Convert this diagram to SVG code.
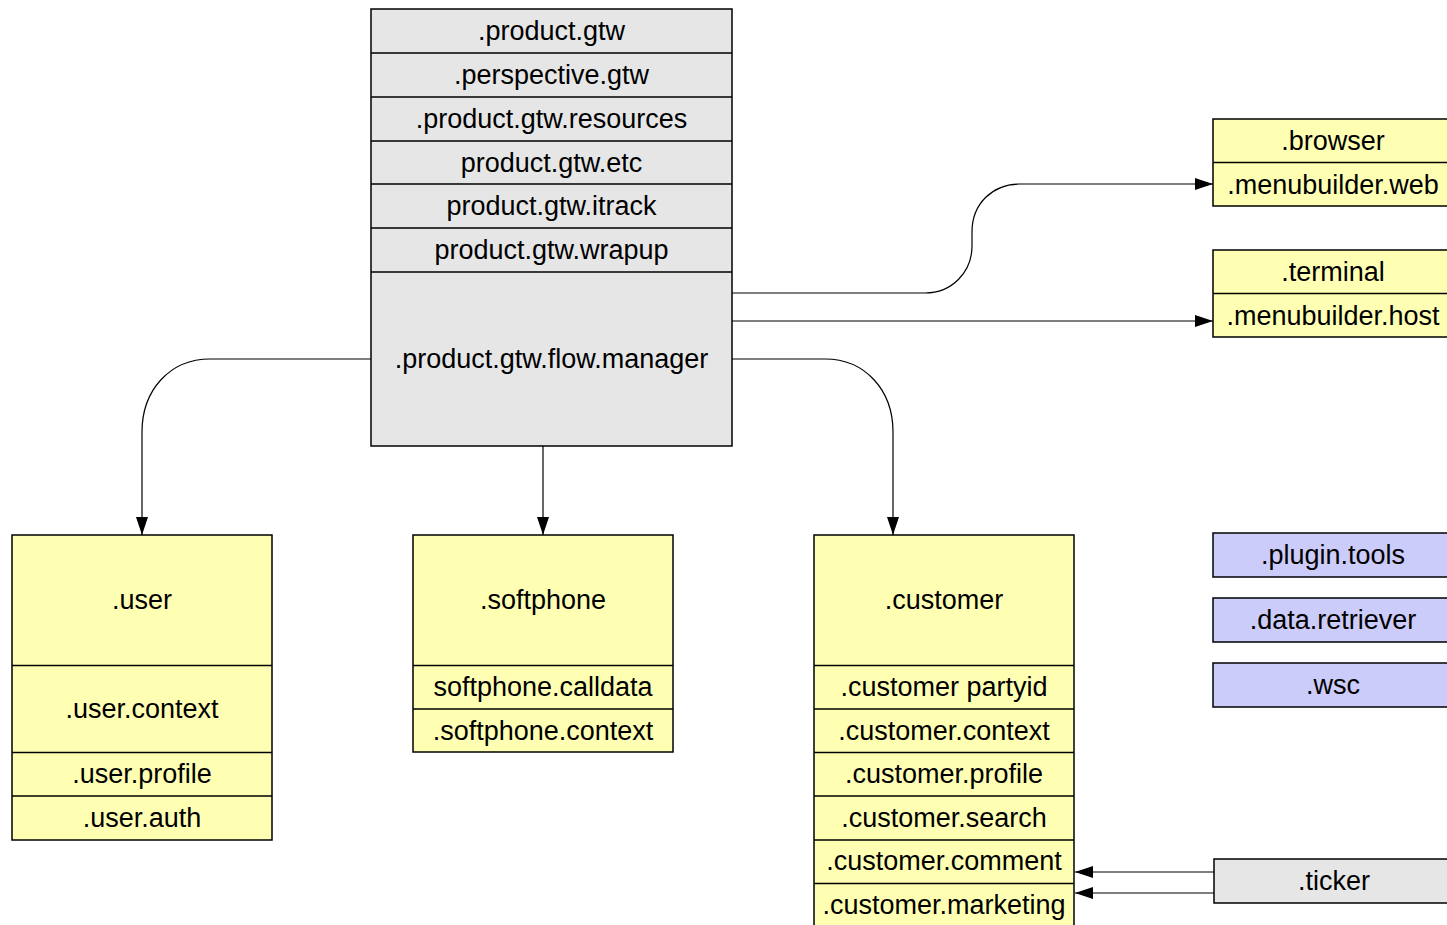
<svg xmlns="http://www.w3.org/2000/svg" width="1447" height="925" viewBox="0 0 1447 925">
<style>
.g{fill:#e6e6e6;stroke:#000;stroke-width:1.5}
.y{fill:#ffffb4;stroke:#000;stroke-width:1.5}
.p{fill:#ccccfa;stroke:#000;stroke-width:1.5}
.d{stroke:#000;stroke-width:1.5;fill:none}
text{font-family:"Liberation Sans",Arial,sans-serif;font-size:27px;fill:#000;text-anchor:middle}
.c{fill:none;stroke:#000;stroke-width:1.2;marker-end:url(#ah)}
</style>
<defs>
<marker id="ah" markerUnits="userSpaceOnUse" markerWidth="18" markerHeight="14" refX="18" refY="7" orient="auto">
<path d="M0,1 L18,7 L0,13 z" fill="#000"/>
</marker>
</defs>
<rect width="1447" height="925" fill="#fff"/>
<g id="connectors">
<path class="c" d="M732,293 H925 C952,293 972,272 972,246 V232 C972,204 992,184 1020,184 H1213"/>
<path class="c" d="M732,321 H1213"/>
<path class="c" d="M732,359 H825 C865,359 893,390 893,432 V535"/>
<path class="c" d="M371,359 H210 C170,359 142,390 142,432 V535"/>
<path class="c" d="M543,446 V535"/>
<path class="c" d="M1214,872 H1075"/>
<path class="c" d="M1214,893 H1075"/>
</g>
<g id="gtw">
<rect class="g" x="371" y="9" width="361" height="437"/>
<path class="d" d="M371,53 H732 M371,97 H732 M371,141 H732 M371,184 H732 M371,228 H732 M371,272 H732"/>
<text x="551.5" y="40">.product.gtw</text>
<text x="551.5" y="84">.perspective.gtw</text>
<text x="551.5" y="128">.product.gtw.resources</text>
<text x="551.5" y="171.5">product.gtw.etc</text>
<text x="551.5" y="215">product.gtw.itrack</text>
<text x="551.5" y="259">product.gtw.wrapup</text>
<text x="551.5" y="368">.product.gtw.flow.manager</text>
</g>
<g id="browser">
<rect class="y" x="1213" y="119" width="240" height="87"/>
<path class="d" d="M1213,162.5 H1453"/>
<text x="1333" y="150">.browser</text>
<text x="1333" y="193.5">.menubuilder.web</text>
</g>
<g id="terminal">
<rect class="y" x="1213" y="250" width="240" height="87"/>
<path class="d" d="M1213,293.5 H1453"/>
<text x="1333" y="281">.terminal</text>
<text x="1333" y="324.5">.menubuilder.host</text>
</g>
<g id="user">
<rect class="y" x="12" y="535" width="260" height="305"/>
<path class="d" d="M12,665.5 H272 M12,752.5 H272 M12,796 H272"/>
<text x="142" y="609">.user</text>
<text x="142" y="718">.user.context</text>
<text x="142" y="783">.user.profile</text>
<text x="142" y="827">.user.auth</text>
</g>
<g id="softphone">
<rect class="y" x="413" y="535" width="260" height="217"/>
<path class="d" d="M413,665.5 H673 M413,709 H673"/>
<text x="543" y="609">.softphone</text>
<text x="543" y="696">softphone.calldata</text>
<text x="543" y="740">.softphone.context</text>
</g>
<g id="customer">
<rect class="y" x="814" y="535" width="260" height="400"/>
<path class="d" d="M814,665.5 H1074 M814,709 H1074 M814,752.5 H1074 M814,796 H1074 M814,840 H1074 M814,883.5 H1074"/>
<text x="944" y="609">.customer</text>
<text x="944" y="696">.customer partyid</text>
<text x="944" y="740">.customer.context</text>
<text x="944" y="783">.customer.profile</text>
<text x="944" y="827">.customer.search</text>
<text x="944" y="870">.customer.comment</text>
<text x="944" y="914">.customer.marketing</text>
</g>
<g id="plugin-tools">
<rect class="p" x="1213" y="533" width="240" height="44"/>
<text x="1333" y="564">.plugin.tools</text>
</g>
<g id="data-retriever">
<rect class="p" x="1213" y="598" width="240" height="44"/>
<text x="1333" y="629">.data.retriever</text>
</g>
<g id="wsc">
<rect class="p" x="1213" y="663" width="240" height="44"/>
<text x="1333" y="694">.wsc</text>
</g>
<g id="ticker">
<rect class="g" x="1214" y="859" width="240" height="44"/>
<text x="1334" y="890">.ticker</text>
</g>
</svg>
